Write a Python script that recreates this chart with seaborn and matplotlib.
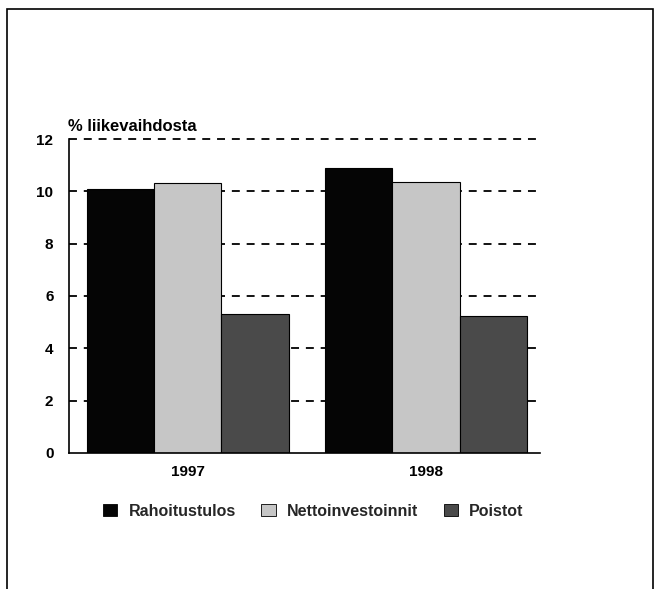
import matplotlib.pyplot as plt
import matplotlib.patches as mpatches
import seaborn as sns
import pandas as pd

years = ['1997', '1998']
series = ['Rahoitustulos', 'Nettoinvestoinnit', 'Poistot']
rahoitustulos = [10.1, 10.9]
nettoinvestoinnit = [10.3, 10.35]
poistot = [5.3, 5.25]
colors = ['#050505', '#c6c6c6', '#4a4a4a']
yticks = [0, 2, 4, 6, 8, 10, 12]

sns.set_theme(style='white')
plt.rcParams['font.family'] = ['Liberation Sans', 'DejaVu Sans']

df = pd.DataFrame({
    'year': years * 3,
    'series': [s for s in series for _ in years],
    'value': rahoitustulos + nettoinvestoinnit + poistot,
})

fig = plt.figure(figsize=(6.61, 5.89), dpi=100)
ax = fig.add_axes([0.104, 0.231, 0.713, 0.533])

# dashed grid behind the bars
for y in yticks[1:]:
    ax.axhline(y, color='black', lw=1.3, ls=(0, (4.4, 3.8)), zorder=0, clip_on=False)

sns.barplot(data=df, x='year', y='value', hue='series', palette=colors,
            width=0.85, edgecolor='black', linewidth=0.8, ax=ax,
            legend=False, zorder=2)

ax.set_ylim(0, 12)
ax.set_xlim(-0.5, 1.48)
ax.set_yticks(yticks)
ax.set_xlabel('')
ax.set_ylabel('')
ax.tick_params(axis='y', length=0, labelsize=11, pad=11, colors='black')
ax.tick_params(axis='x', length=0, labelsize=11, pad=9, colors='black')
for lab in ax.get_xticklabels() + ax.get_yticklabels():
    lab.set_fontweight('bold')
for s in ['top', 'right']:
    ax.spines[s].set_visible(False)
for s in ['left', 'bottom']:
    ax.spines[s].set_color('black')
    ax.spines[s].set_linewidth(1.2)

fig.text(0.103, 0.773, '% liikevaihdosta', fontsize=12, fontweight='bold',
         color='black', ha='left', va='bottom')

handles = [mpatches.Patch(facecolor=c, edgecolor='black', lw=0.6) for c in colors]
fig.legend(handles, series, loc='center', bbox_to_anchor=(0.474, 0.132),
           ncol=3, frameon=False, prop={'size': 11.5, 'weight': 'bold'},
           handlelength=0.9, handleheight=0.75, columnspacing=1.6,
           handletextpad=0.7)

# border around the whole figure
border = mpatches.Rectangle((0.011, -0.05), 0.977, 1.035, transform=fig.transFigure,
                            fill=False, edgecolor='black', lw=1.2, clip_on=False)
fig.patches.append(border)

fig.savefig('out.png', dpi=100, facecolor='white')
